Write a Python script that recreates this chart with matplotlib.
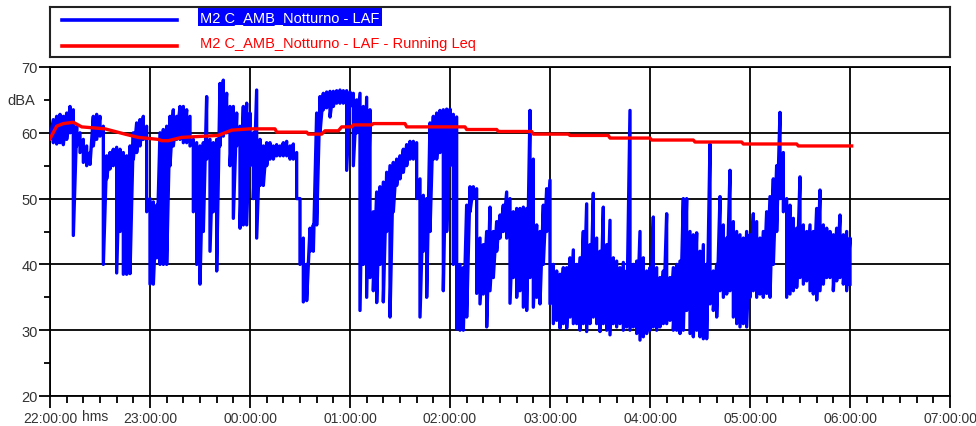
import matplotlib
matplotlib.use("Agg")
import matplotlib.pyplot as plt
import matplotlib.transforms as mtransforms
import numpy as np

plt.rcParams['font.family'] = ['Liberation Sans', 'DejaVu Sans']

# minuti dalle 22:00, campioni ogni 2 minuti (max / min del LAF nell'intervallo)
laf_minutes = np.arange(0, 481, 2)

laf_hi = [
    # 22:00 - 23:00
    60, 62, 62.5, 62.8, 62.5, 63, 64, 63.5, 61, 60,
    59, 58, 57, 62.5, 62.8, 62.5, 61, 56.5, 57, 57.5,
    57.8, 57.5, 57, 56.5, 58, 60, 61.5, 62, 62.5, 61,
    # 23:00 - 00:00
    50, 49.5, 49, 60, 60.5, 61, 62.5, 63.5, 62.5, 64,
    64, 63.5, 62.5, 59, 58.5, 58, 58.5, 65.5, 59, 58.5,
    59, 67.5, 68, 66, 64, 64, 63, 61, 64, 64.5,
    # 00:00 - 01:00
    63, 60, 66.5, 59, 58, 58.5, 58.5, 58, 58.2, 58,
    58.5, 58.7, 58, 58.3, 57, 50, 44, 40, 45.5, 46,
    63, 65.5, 66, 66.2, 66.3, 66.3, 66.4, 66.5, 66.4, 66.4,
    # 01:00 - 02:00
    66.2, 66, 65, 66, 64, 65.4, 63.5, 48, 51, 51.8,
    52.5, 54, 55, 55.5, 56, 56.5, 57.5, 58.2, 58.7, 58.7,
    58.5, 53, 50.5, 50, 61.5, 62.5, 63, 63.4, 63.5, 63.6,
    # 02:00 - 03:00
    63.6, 62.8, 62.4, 40, 39.5, 49, 51.8, 51.8, 51.5, 44,
    43, 45, 48.7, 45, 46.5, 47.5, 49, 51, 50, 48,
    48.5, 48.5, 48.7, 48.5, 63.4, 56, 46, 45, 49, 51.5,
    # 03:00 - 04:00
    52.8, 40, 39, 38.5, 39.5, 39.5, 41, 42.2, 40, 41,
    45, 49.2, 43, 50.8, 44, 42, 48.7, 43, 46.7, 41,
    40.5, 39.5, 40.3, 39, 63.4, 40, 40.5, 45, 41, 39,
    # 04:00 - 05:00
    39.5, 47.2, 39.5, 38, 39, 47.7, 38, 39.5, 40, 40.5,
    50, 50, 45, 44.5, 44.8, 42, 43, 40, 58.3, 39,
    40, 50.3, 46, 44, 54.3, 46.5, 45, 44.5, 44, 45,
    # 05:00 - 06:00
    44.5, 47.7, 46.5, 44, 45, 48, 50.3, 53, 55, 63.1,
    57, 50, 49, 47, 45.5, 53.3, 46, 45, 46, 45,
    48.5, 51.3, 46, 45.5, 45, 44.5, 45.5, 47.5, 44.5, 45,
    44,
]

laf_lo = [
    # 22:00 - 23:00
    59, 58.5, 58.3, 58.5, 58.2, 59, 60, 44.4, 58, 57,
    55.5, 55, 55.2, 58, 59, 59.5, 40, 53, 54.5, 55,
    38.7, 45, 38.5, 38.5, 38.6, 56, 57, 58, 59, 48,
    # 23:00 - 00:00
    37, 37, 41, 40, 40, 40, 55, 58, 59, 59,
    58.5, 58.5, 58, 48, 40, 37, 45, 56, 42, 48,
    39, 58, 59.5, 60, 55, 47, 58, 45.5, 46, 46,
    # 00:00 - 01:00
    55, 50, 44, 52, 52, 55, 56, 56, 56.5, 56.5,
    56.5, 56.5, 56, 56, 50, 40, 34.3, 34.5, 42, 42,
    46, 60, 63.5, 63.8, 62.4, 64, 64.5, 64.5, 64.5, 54.3,
    # 01:00 - 02:00
    64, 55, 60, 33, 40, 35, 38, 36, 34.2, 40,
    34.3, 45, 32, 48, 52, 53, 54, 55, 56, 56,
    50, 32, 42, 35, 45, 56, 56, 57, 36, 45,
    # 02:00 - 03:00
    55, 40, 30.2, 30, 30, 32, 48, 50, 35.6, 34,
    35.5, 30.5, 36, 38, 42, 44, 45, 44, 34.1, 38,
    35, 36, 33.5, 33, 38, 33.5, 35, 34, 40, 45,
    # 03:00 - 04:00
    34, 31, 31.5, 30.3, 31, 30.3, 32, 31, 31, 30,
    31, 29.8, 31, 32, 31, 29.8, 31, 30, 29.3, 31,
    30.5, 31, 30, 30.5, 30, 30.5, 29.5, 28.5, 29, 29.5,
    # 04:00 - 05:00
    30, 30.5, 30, 30.5, 31, 31, 31.5, 30, 30, 29.5,
    30, 33, 29.5, 29, 30, 29, 28.7, 28.7, 34, 33,
    32, 36, 35, 35.5, 36, 32, 31, 30.5, 31, 30.5,
    # 05:00 - 06:00
    35, 36, 35, 35.5, 35, 35.6, 35, 40, 45, 50,
    48, 35, 35.5, 36, 36.5, 38, 37, 37.5, 36, 35.5,
    34.6, 36, 37, 38, 38, 36, 37.5, 38, 37, 36,
    37,
]

# Running Leq (minuti, dBA)
leq_minutes = [0, 4, 8, 14, 19, 33, 45, 53, 65, 67, 71, 79, 101, 109, 120,
               135, 136, 154, 155, 163, 165, 173, 175, 181, 182, 193, 194, 213,
               214, 249, 250, 268, 269, 289, 290, 311, 312, 335, 336, 360, 361,
               386, 387, 415, 416, 448, 449, 481]
leq_values = [59.1, 61.0, 61.4, 61.6, 60.9, 60.6, 59.8, 59.3, 59.0, 58.8, 58.8,
              59.3, 59.6, 60.4, 60.6, 60.6, 60.1, 60.1, 59.8, 59.8, 60.3, 60.3,
              60.9, 60.9, 61.2, 61.2, 61.4, 61.4, 60.9, 60.9, 60.5, 60.5, 60.2,
              60.2, 59.8, 59.8, 59.6, 59.6, 59.2, 59.2, 58.9, 58.9, 58.6, 58.6,
              58.3, 58.3, 58.0, 58.0]

ore = ["22:00:00", "23:00:00", "00:00:00", "01:00:00", "02:00:00",
       "03:00:00", "04:00:00", "05:00:00", "06:00:00", "07:00:00"]
nome_laf = "M2 C_AMB_Notturno - LAF"
nome_leq = "M2 C_AMB_Notturno - LAF - Running Leq"

BLU = "#0000ff"
ROSSO = "#ff0000"
TXT = "#333333"

fig = plt.figure(figsize=(9.76, 4.27), dpi=100)
ax = fig.add_axes([50 / 976, 30 / 427, 900 / 976, 329 / 427])

# traccia LAF: per ogni campione si va dal massimo al minimo
x_laf = np.repeat(laf_minutes, 2)
y_laf = np.column_stack([laf_hi, laf_lo]).ravel()
ax.plot(x_laf, y_laf, color=BLU, lw=2.4, zorder=3)
ax.plot(leq_minutes, leq_values, color=ROSSO, lw=2.4, zorder=4)

ax.set_xlim(0, 540)
ax.set_ylim(20, 70)
ax.set_xticks(np.arange(0, 541, 60))
ax.set_xticklabels(ore)
ax.set_xticks(np.arange(0, 541, 10), minor=True)
ax.set_yticks(np.arange(20, 71, 10))
ax.set_yticks(np.arange(25, 70, 10), minor=True)

ax.grid(True, which='major', color='black', lw=1.3)
ax.set_axisbelow(True)
for s in ax.spines.values():
    s.set_linewidth(1.3)

ax.tick_params(axis='x', which='major', length=8.5, width=1.3, pad=2,
               labelsize=10, labelcolor=TXT)
ax.tick_params(axis='x', which='minor', length=5, width=1.3)
ax.tick_params(axis='y', which='major', length=8, width=1.3, pad=1,
               labelsize=10.5, labelcolor=TXT)
ax.tick_params(axis='y', which='minor', length=4, width=1.3)

# etichette unità
trans = mtransforms.blended_transform_factory(ax.transAxes, ax.transData)
ax.text(-0.017, 65, "dBA", transform=trans, ha='right', va='center',
        fontsize=10.5, color=TXT)
fig.text(95 / 976, 1 - 410 / 427, "hms", ha='center', va='top',
         fontsize=10, color=TXT)

# riquadro legenda
lax = fig.add_axes([50 / 976, (427 - 58) / 427, 900 / 976, 50 / 427])
lax.set_xlim(0, 900)
lax.set_ylim(50, 0)
lax.set_xticks([])
lax.set_yticks([])
for s in lax.spines.values():
    s.set_linewidth(1.5)
    s.set_color('#222222')
lax.plot([12, 127], [13, 13], color=BLU, lw=2.6)
lax.plot([12, 127], [39, 39], color=ROSSO, lw=2.6)
lax.text(150, 10, nome_laf, color='white', fontsize=10.5, va='center',
         bbox=dict(boxstyle='square,pad=0.15', fc=BLU, ec='none'))
lax.text(150, 36, nome_leq, color=ROSSO, fontsize=10.5, va='center')

fig.savefig("out.png", dpi=100)
